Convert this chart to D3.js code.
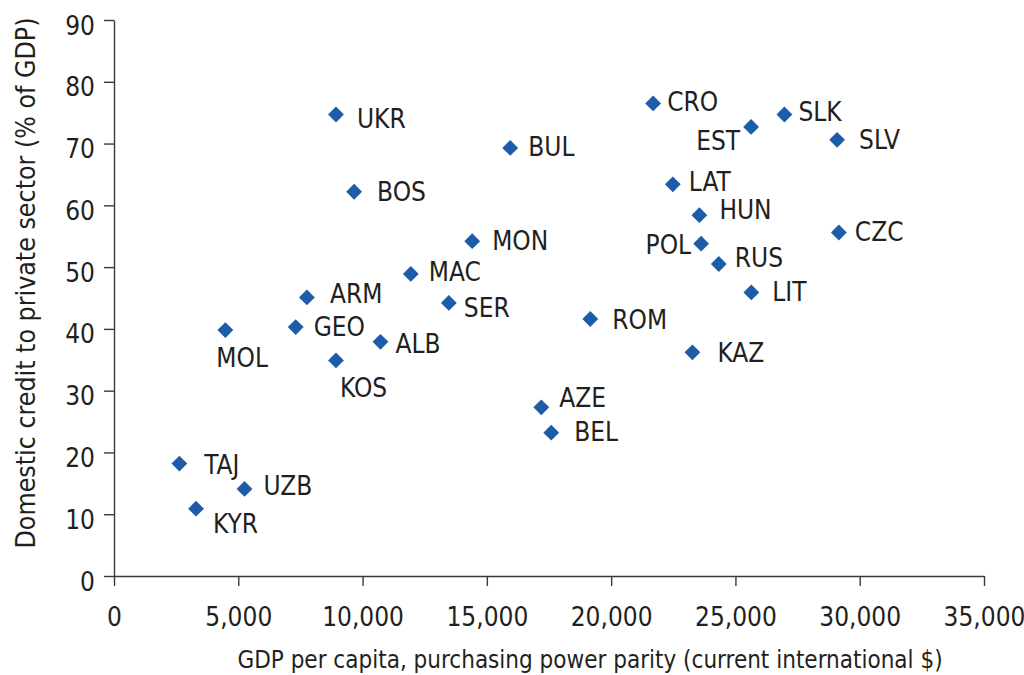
<!DOCTYPE html>
<html>
<head>
<meta charset="utf-8">
<script src="https://cdn.jsdelivr.net/npm/d3@7"></script>
<style>
  body { margin: 0; background: #fff; }
  svg text { font-family: "DejaVu Sans Condensed", "DejaVu Sans", sans-serif; font-stretch: condensed; fill: #231f20; }
</style>
</head>
<body>
<svg id="chart" width="1024" height="675"></svg>
<script>
// country codes, GDP per capita PPP, domestic credit (% of GDP)
var countries = ["UKR", "BOS", "BUL", "CRO", "SLK", "EST", "SLV", "LAT", "HUN", "POL", "CZC", "RUS", "LIT", "MON",
    "MAC", "ARM", "SER", "GEO", "MOL", "ALB", "KOS", "ROM", "KAZ", "AZE", "BEL", "TAJ", "UZB", "KYR"]
var gdp = [8930, 9660, 15940, 21690, 26970, 25630, 29090, 22480, 23550, 23620, 29160, 24330, 25640, 14410,
    11940, 7760, 13470, 7310, 4480, 10720, 8930, 19160, 23270, 17190, 17590, 2630, 5250, 3300]
var credit = [74.7, 62.2, 69.3, 76.5, 74.7, 72.7, 70.6, 63.4, 58.4, 53.8, 55.6, 50.5, 45.9, 54.2,
    48.9, 45.1, 44.2, 40.3, 39.8, 37.9, 34.9, 41.6, 36.2, 27.3, 23.2, 18.2, 14.1, 10.9]

var xTicks = [0, 5000, 10000, 15000, 20000, 25000, 30000, 35000]
var yTicks = [0, 10, 20, 30, 40, 50, 60, 70, 80, 90]

// where each label sits relative to its marker: [dx, dy, anchor]
var labelPos = {
    UKR: [21, 13, "start"], BOS: [23, 9, "start"], BUL: [18, 8, "start"], CRO: [14, 8, "start"],
    SLK: [14, 6, "start"], EST: [-11, 23, "end"], SLV: [22, 9, "start"], LAT: [16, 7, "start"],
    HUN: [20, 4, "start"], POL: [-10, 10, "end"], CZC: [16, 8, "start"], RUS: [16, 3, "start"],
    LIT: [21, 9, "start"], MON: [20, 9, "start"], MAC: [18, 7, "start"], ARM: [23, 6, "start"],
    SER: [15, 14, "start"], GEO: [18, 9, "start"], MOL: [-9, 37, "start"], ALB: [15, 11, "start"],
    KOS: [4, 37, "start"], ROM: [22, 10, "start"], KAZ: [25, 10, "start"], AZE: [18, 0, "start"],
    BEL: [23, 8, "start"], TAJ: [25, 10, "start"], UZB: [19, 6, "start"], KYR: [17, 24, "start"]
}

var data = countries.map(function (c, i) { return { name: c, x: gdp[i], y: credit[i] } })

var margin = { top: 20, left: 114, bottom: 99, right: 40 }
var svg = d3.select("#chart")
var width = 1024 - margin.left - margin.right
var height = 675 - margin.top - margin.bottom

var X_scale = d3.scaleLinear().domain([0, 35000]).range([0, width])
var Y_scale = d3.scaleLinear().domain([0, 90]).range([height, 0])

var g = svg.append("g").attr("transform", `translate(${margin.left},${margin.top})`)

var xAxis = g.append("g")
    .attr("transform", `translate(0, ${height})`)
    .call(d3.axisBottom(X_scale).tickValues(xTicks).tickSize(10).tickSizeOuter(0).tickFormat(d3.format(",")))
var yAxis = g.append("g")
    .call(d3.axisLeft(Y_scale).tickValues(yTicks).tickSize(10).tickSizeOuter(0))

g.selectAll(".domain, .tick line").attr("stroke", "#3a3a3a").attr("stroke-width", 1.4)
xAxis.selectAll(".tick text").attr("font-size", 26).attr("y", 50).attr("dy", 0)
yAxis.selectAll(".tick text").attr("font-size", 26).attr("x", -19).attr("dy", 14)

g.selectAll("path.pt")
    .data(data)
    .join("path")
    .attr("class", "pt")
    .attr("d", d3.symbol().type(d3.symbolSquare).size(125))
    .attr("transform", function (d) { return `translate(${X_scale(d.x)},${Y_scale(d.y)}) rotate(45)` })
    .style("fill", "#1c5ca8")

g.selectAll("text.lbl")
    .data(data)
    .join("text")
    .attr("class", "lbl")
    .attr("x", function (d) { return X_scale(d.x) + labelPos[d.name][0] })
    .attr("y", function (d) { return Y_scale(d.y) + labelPos[d.name][1] })
    .attr("text-anchor", function (d) { return labelPos[d.name][2] })
    .attr("font-size", 26)
    .text(function (d) { return d.name })

svg.append("text")
    .attr("x", 590).attr("y", 668)
    .attr("text-anchor", "middle")
    .attr("font-size", 24)
    .text("GDP per capita, purchasing power parity (current international $)")

svg.append("text")
    .attr("transform", "translate(35, 283) rotate(-90)")
    .attr("text-anchor", "middle")
    .attr("font-size", 26.5)
    .text("Domestic credit to private sector (% of GDP)")
</script>
</body>
</html>
